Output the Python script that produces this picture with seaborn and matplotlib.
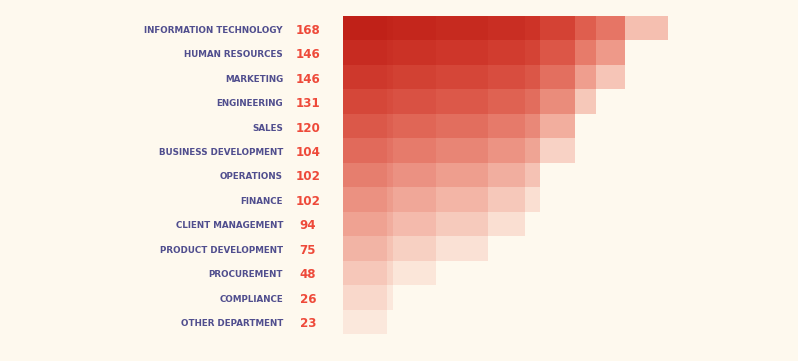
import numpy as np
import pandas as pd
import matplotlib
matplotlib.use("Agg")
import matplotlib.pyplot as plt
import matplotlib.colors as mcolors
import matplotlib.transforms as mtransforms
import seaborn as sns

# -------------------------------
# DATA
# -------------------------------
departments = [
    "INFORMATION TECHNOLOGY", "HUMAN RESOURCES", "MARKETING", "ENGINEERING",
    "SALES", "BUSINESS DEVELOPMENT", "OPERATIONS", "FINANCE",
    "CLIENT MANAGEMENT", "PRODUCT DEVELOPMENT", "PROCUREMENT", "COMPLIANCE",
    "OTHER DEPARTMENT",
]
counts = [168, 146, 146, 131, 120, 104, 102, 102, 94, 75, 48, 26, 23]
# bar lengths as drawn in the picture (business development is drawn out to 120)
bar_lengths = [168, 146, 146, 131, 120, 120, 102, 102, 94, 75, 48, 26, 23]

# -------------------------------
# STYLE
# -------------------------------
BG = "#fef9ee"
INK = "#de2308"          # multiply-blended ink of every bar
LABEL_COLOR = "#504e8e"
COUNT_COLOR = "#ee4a3a"
layer_strength = [0.27, 0.26, 0.24, 0.23, 0.20, 0.18, 0.15,
                  0.12, 0.12, 0.11, 0.09, 0.08, 0.08]

W, H, DPI = 798, 361, 100

bg_rgb = np.array(mcolors.to_rgb(BG))
ink_rgb = np.array(mcolors.to_rgb(INK))


def multiply(layers):
    # colour of the background after the given bars are multiplied over it
    out = bg_rgb.copy()
    for k in layers:
        out *= 1 - layer_strength[k] * (1 - ink_rgb)
    return tuple(out)


sns.set_theme(style="white", rc={"axes.facecolor": BG, "figure.facecolor": BG})

fig = plt.figure(figsize=(W / DPI, H / DPI), dpi=DPI)
ax = fig.add_axes([343 / W, 27 / H, 325 / W, 318 / H])

# row i holds its own bar plus every bar listed below it; the bars overlap and
# darken towards the left. Long bars are drawn first, shorter ones on top.
n = len(departments)
for j, length in enumerate(bar_lengths):
    rows = departments[: j + 1]
    layer = pd.DataFrame({"dept": rows, "value": length})
    palette = {
        departments[i]: multiply([k for k in range(i, n) if bar_lengths[k] >= length])
        for i in range(j + 1)
    }
    sns.barplot(data=layer, x="value", y="dept", hue="dept", palette=palette,
                order=departments, hue_order=rows, orient="h", legend=False,
                saturation=1, width=1.0, errorbar=None, linewidth=0, ax=ax)

ax.set_xlim(0, max(bar_lengths))
ax.set_ylim(n - 0.5, -0.5)
ax.axis("off")

trans = mtransforms.blended_transform_factory(fig.transFigure, ax.transData)
for i, (name, c) in enumerate(zip(departments, counts)):
    ax.text(283 / W, i + 0.08, name, transform=trans, ha="right", va="center",
            fontsize=6.3, fontweight="bold", color=LABEL_COLOR, family="DejaVu Sans")
    ax.text(308 / W, i + 0.08, str(c), transform=trans, ha="center", va="center",
            fontsize=8.6, fontweight="bold", color=COUNT_COLOR, family="DejaVu Sans")

fig.savefig("out.png", dpi=DPI, facecolor=BG)
